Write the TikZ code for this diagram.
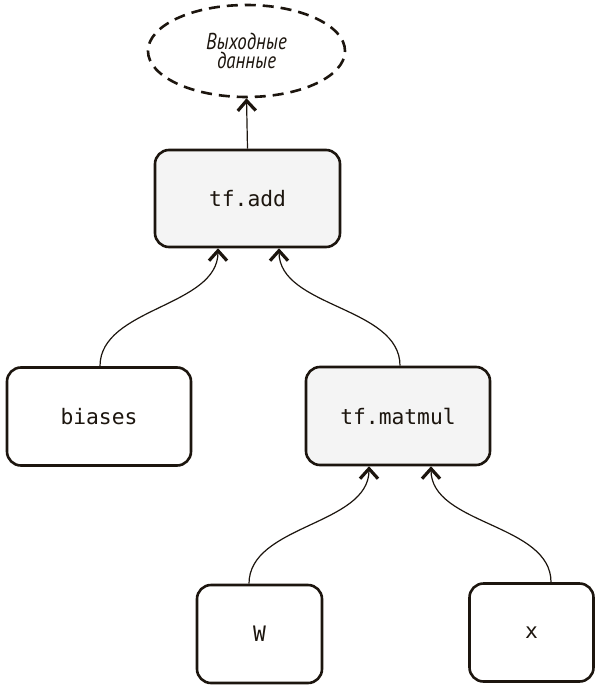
\documentclass[tikz,border=0pt]{standalone}
\usepackage{fontspec}
\setmonofont{DejaVu Sans Mono}
\newfontfamily\capfont[FakeStretch=0.82]{PT Sans}
\usetikzlibrary{arrows.meta,shapes.geometric}
\definecolor{ink}{HTML}{1C150E}
\definecolor{boxfill}{HTML}{F4F4F4}
\begin{document}
\begin{tikzpicture}[x=1pt,y=-1pt,
  opbox/.style={draw=ink,line width=2.6pt,rounded corners=14pt,inner sep=0pt,
    font=\ttfamily\fontsize{21.3}{24}\selectfont,text=ink},
  grayop/.style={opbox,fill=boxfill},
  whiteop/.style={opbox,fill=white},
  link/.style={draw=ink,line width=1.2pt,
    -{Straight Barb[length=10pt,width=18pt,line width=3.2pt]}},
  outnode/.style={draw=ink,ellipse,dashed,dash pattern=on 11pt off 7pt,line width=2.6pt,
    inner sep=0pt,minimum width=197pt,minimum height=92pt,align=center,
    font=\capfont\itshape\fontsize{23}{18.5}\selectfont,text=ink}
]
\useasboundingbox (0,0) rectangle (598,690);
\node[outnode] (out) at (246.5,51) {Выходные\\данные};
\node[grayop,minimum width=185pt,minimum height=97pt] (add) at (247.5,198.5) {tf.add};
\node[whiteop,minimum width=184pt,minimum height=98pt] (biases) at (99,416.5) {biases};
\node[grayop,minimum width=184pt,minimum height=98pt] (matmul) at (398,416) {tf.matmul};
\node[whiteop,minimum width=125pt,minimum height=98pt] (W) at (259.5,634) {W};
\node[whiteop,minimum width=124pt,minimum height=98pt] (X) at (531.5,632.5) {x};
\coordinate (addL) at ([xshift=-29.5pt]add.south);
\coordinate (addR) at ([xshift=31.5pt]add.south);
\coordinate (mmL) at ([xshift=-29pt]matmul.south);
\coordinate (mmR) at ([xshift=33pt]matmul.south);
\draw[link] (add.north) -- (out.south);
\draw[link] ([xshift=1pt]biases.north) to[out=90,in=-90,looseness=0.9] (addL);
\draw[link] ([xshift=2pt]matmul.north) to[out=90,in=-90,looseness=0.9] (addR);
\draw[link] ([xshift=-10.5pt]W.north) to[out=90,in=-90,looseness=0.9] (mmL);
\draw[link] ([xshift=19.5pt]X.north) to[out=90,in=-90,looseness=0.9] (mmR);
\end{tikzpicture}
\end{document}
